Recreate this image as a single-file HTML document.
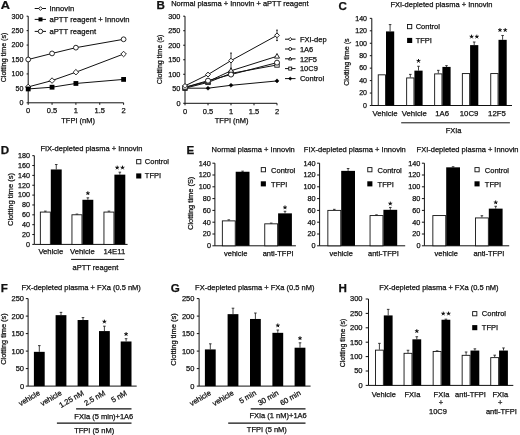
<!DOCTYPE html>
<html><head><meta charset="utf-8"><style>
html,body{margin:0;padding:0;background:#fff;}
svg{display:block;filter:grayscale(1) blur(0.3px);}
text{font-family:"Liberation Sans",sans-serif;font-size:7.5px;fill:#111;stroke:#111;stroke-width:0.25px;}
</style></head><body>
<svg width="520" height="435" viewBox="0 0 520 435">
<rect width="520" height="435" fill="#fff"/>
<g transform="translate(0.8 9.35) scale(1.1 1)">
<text x="0" y="0" font-weight="bold" style="font-size:11.6px">A</text>
</g>
<line x1="28.2" y1="16.2" x2="28.2" y2="102.8" stroke="#111" stroke-width="1"/>
<line x1="26.6" y1="102.8" x2="28.2" y2="102.8" stroke="#111" stroke-width="1"/>
<text x="23.45" y="105.11" text-anchor="end" style="font-size:7.1px">0</text>
<line x1="26.6" y1="88.37" x2="28.2" y2="88.37" stroke="#111" stroke-width="1"/>
<text x="23.45" y="90.67" text-anchor="end" style="font-size:7.1px">50</text>
<line x1="26.6" y1="73.93" x2="28.2" y2="73.93" stroke="#111" stroke-width="1"/>
<text x="23.45" y="76.24" text-anchor="end" style="font-size:7.1px">100</text>
<line x1="26.6" y1="59.5" x2="28.2" y2="59.5" stroke="#111" stroke-width="1"/>
<text x="23.45" y="61.81" text-anchor="end" style="font-size:7.1px">150</text>
<line x1="26.6" y1="45.07" x2="28.2" y2="45.07" stroke="#111" stroke-width="1"/>
<text x="23.45" y="47.37" text-anchor="end" style="font-size:7.1px">200</text>
<line x1="26.6" y1="30.63" x2="28.2" y2="30.63" stroke="#111" stroke-width="1"/>
<text x="23.45" y="32.94" text-anchor="end" style="font-size:7.1px">250</text>
<line x1="26.6" y1="16.2" x2="28.2" y2="16.2" stroke="#111" stroke-width="1"/>
<text x="23.45" y="18.51" text-anchor="end" style="font-size:7.1px">300</text>
<line x1="28.2" y1="102.8" x2="123.6" y2="102.8" stroke="#111" stroke-width="1"/>
<line x1="28.2" y1="102.8" x2="28.2" y2="104.8" stroke="#111" stroke-width="1"/>
<text x="28.2" y="113.2" text-anchor="middle">0</text>
<line x1="52.05" y1="102.8" x2="52.05" y2="104.8" stroke="#111" stroke-width="1"/>
<text x="52.05" y="113.2" text-anchor="middle">0.5</text>
<line x1="75.9" y1="102.8" x2="75.9" y2="104.8" stroke="#111" stroke-width="1"/>
<text x="75.9" y="113.2" text-anchor="middle">1</text>
<line x1="99.75" y1="102.8" x2="99.75" y2="104.8" stroke="#111" stroke-width="1"/>
<text x="99.75" y="113.2" text-anchor="middle">1.5</text>
<line x1="123.6" y1="102.8" x2="123.6" y2="104.8" stroke="#111" stroke-width="1"/>
<text x="123.6" y="113.2" text-anchor="middle">2</text>
<text x="78.1" y="123" text-anchor="middle">TFPI (nM)</text>
<text x="6.4" y="57.5" text-anchor="middle" style="font-size:7.1px" transform="rotate(-90 6.4 57.5)">Clotting time (s)</text>
<polyline points="28.2,86.92 52.05,80.57 75.9,72.2 123.6,54.02" fill="none" stroke="#111" stroke-width="1"/>
<polyline points="28.2,88.94 52.05,87.21 75.9,83.46 123.6,79.42" fill="none" stroke="#111" stroke-width="1"/>
<polyline points="28.2,59.5 52.05,53.44 75.9,47.66 123.6,39.29" fill="none" stroke="#111" stroke-width="1"/>
<polygon points="28.2,84.16 30.96,86.92 28.2,89.68 25.44,86.92" fill="#fff" stroke="#111" stroke-width="0.9"/>
<polygon points="52.05,77.81 54.81,80.57 52.05,83.33 49.29,80.57" fill="#fff" stroke="#111" stroke-width="0.9"/>
<polygon points="75.9,69.44 78.66,72.2 75.9,74.96 73.14,72.2" fill="#fff" stroke="#111" stroke-width="0.9"/>
<polygon points="123.6,51.26 126.36,54.02 123.6,56.78 120.84,54.02" fill="#fff" stroke="#111" stroke-width="0.9"/>
<rect x="25.8" y="86.54" width="4.8" height="4.8" fill="#000"/>
<rect x="49.65" y="84.81" width="4.8" height="4.8" fill="#000"/>
<rect x="73.5" y="81.06" width="4.8" height="4.8" fill="#000"/>
<rect x="121.2" y="77.02" width="4.8" height="4.8" fill="#000"/>
<circle cx="28.2" cy="59.5" r="2.4" fill="#fff" stroke="#111" stroke-width="0.9"/>
<circle cx="52.05" cy="53.44" r="2.4" fill="#fff" stroke="#111" stroke-width="0.9"/>
<circle cx="75.9" cy="47.66" r="2.4" fill="#fff" stroke="#111" stroke-width="0.9"/>
<circle cx="123.6" cy="39.29" r="2.4" fill="#fff" stroke="#111" stroke-width="0.9"/>
<line x1="34.7" y1="8.5" x2="46" y2="8.5" stroke="#111" stroke-width="1"/>
<polygon points="40.5,6.66 42.34,8.5 40.5,10.34 38.66,8.5" fill="#fff" stroke="#111" stroke-width="0.9"/>
<text x="49.5" y="11.25" style="font-size:7.65px">Innovin</text>
<line x1="34.7" y1="19.4" x2="46" y2="19.4" stroke="#111" stroke-width="1"/>
<rect x="38.5" y="17.4" width="4" height="4" fill="#000"/>
<text x="49.5" y="22.15" style="font-size:7.65px">aPTT reagent + Innovin</text>
<line x1="34.7" y1="31.4" x2="46" y2="31.4" stroke="#111" stroke-width="1"/>
<circle cx="40.5" cy="31.4" r="2.2" fill="#fff" stroke="#111" stroke-width="0.9"/>
<text x="49.5" y="34.15" style="font-size:7.65px">aPTT reagent</text>
<text x="156.6" y="8.8" font-weight="bold" style="font-size:11.6px">B</text>
<text x="171.2" y="6.2">Normal plasma + Innovin + aPTT reagent</text>
<line x1="185" y1="16.2" x2="185" y2="103.3" stroke="#111" stroke-width="1"/>
<line x1="183.2" y1="103.3" x2="185" y2="103.3" stroke="#111" stroke-width="1"/>
<text x="180.45" y="105.68" text-anchor="end" style="font-size:7.3px">0</text>
<line x1="183.2" y1="88.78" x2="185" y2="88.78" stroke="#111" stroke-width="1"/>
<text x="180.45" y="91.16" text-anchor="end" style="font-size:7.3px">50</text>
<line x1="183.2" y1="74.27" x2="185" y2="74.27" stroke="#111" stroke-width="1"/>
<text x="180.45" y="76.64" text-anchor="end" style="font-size:7.3px">100</text>
<line x1="183.2" y1="59.75" x2="185" y2="59.75" stroke="#111" stroke-width="1"/>
<text x="180.45" y="62.13" text-anchor="end" style="font-size:7.3px">150</text>
<line x1="183.2" y1="45.23" x2="185" y2="45.23" stroke="#111" stroke-width="1"/>
<text x="180.45" y="47.61" text-anchor="end" style="font-size:7.3px">200</text>
<line x1="183.2" y1="30.72" x2="185" y2="30.72" stroke="#111" stroke-width="1"/>
<text x="180.45" y="33.09" text-anchor="end" style="font-size:7.3px">250</text>
<line x1="183.2" y1="16.2" x2="185" y2="16.2" stroke="#111" stroke-width="1"/>
<text x="180.45" y="18.58" text-anchor="end" style="font-size:7.3px">300</text>
<line x1="185" y1="103.3" x2="277" y2="103.3" stroke="#111" stroke-width="1"/>
<line x1="185" y1="103.3" x2="185" y2="105.3" stroke="#111" stroke-width="1"/>
<text x="185" y="113.7" text-anchor="middle">0</text>
<line x1="208" y1="103.3" x2="208" y2="105.3" stroke="#111" stroke-width="1"/>
<text x="208" y="113.7" text-anchor="middle">0.5</text>
<line x1="231" y1="103.3" x2="231" y2="105.3" stroke="#111" stroke-width="1"/>
<text x="231" y="113.7" text-anchor="middle">1</text>
<line x1="254" y1="103.3" x2="254" y2="105.3" stroke="#111" stroke-width="1"/>
<text x="254" y="113.7" text-anchor="middle">1.5</text>
<line x1="277" y1="103.3" x2="277" y2="105.3" stroke="#111" stroke-width="1"/>
<text x="277" y="113.7" text-anchor="middle">2</text>
<text x="231.6" y="123" text-anchor="middle">TFPI (nM)</text>
<text x="162.3" y="59.4" text-anchor="middle" style="font-size:7.1px" transform="rotate(-90 162.3 59.4)">Clotting time (s)</text>
<polyline points="185,88.2 208,88.2 231,85.3 277,80.94" fill="none" stroke="#111" stroke-width="1"/>
<polyline points="185,88.2 208,82.4 231,73.4 277,64.98" fill="none" stroke="#111" stroke-width="1"/>
<polyline points="185,87.33 208,81.53 231,70.78 277,56.27" fill="none" stroke="#111" stroke-width="1"/>
<polyline points="185,87.33 208,80.65 231,74.56 277,62.65" fill="none" stroke="#111" stroke-width="1"/>
<polyline points="185,85.88 208,74.56 231,60.62 277,35.36" fill="none" stroke="#111" stroke-width="1"/>
<line x1="231" y1="70.78" x2="231" y2="69.04" stroke="#111" stroke-width="0.8"/>
<line x1="230" y1="69.04" x2="232" y2="69.04" stroke="#111" stroke-width="0.8"/>
<line x1="208" y1="81.53" x2="208" y2="79.78" stroke="#111" stroke-width="0.8"/>
<line x1="207" y1="79.78" x2="209" y2="79.78" stroke="#111" stroke-width="0.8"/>
<line x1="185" y1="85.88" x2="185" y2="84.72" stroke="#111" stroke-width="0.8"/>
<line x1="184" y1="84.72" x2="186" y2="84.72" stroke="#111" stroke-width="0.8"/>
<line x1="185" y1="85.88" x2="185" y2="87.04" stroke="#111" stroke-width="0.8"/>
<line x1="184" y1="87.04" x2="186" y2="87.04" stroke="#111" stroke-width="0.8"/>
<line x1="208" y1="74.56" x2="208" y2="73.11" stroke="#111" stroke-width="0.8"/>
<line x1="207" y1="73.11" x2="209" y2="73.11" stroke="#111" stroke-width="0.8"/>
<line x1="208" y1="74.56" x2="208" y2="76.01" stroke="#111" stroke-width="0.8"/>
<line x1="207" y1="76.01" x2="209" y2="76.01" stroke="#111" stroke-width="0.8"/>
<line x1="231" y1="60.62" x2="231" y2="53.07" stroke="#111" stroke-width="0.8"/>
<line x1="230" y1="53.07" x2="232" y2="53.07" stroke="#111" stroke-width="0.8"/>
<line x1="231" y1="60.62" x2="231" y2="68.17" stroke="#111" stroke-width="0.8"/>
<line x1="230" y1="68.17" x2="232" y2="68.17" stroke="#111" stroke-width="0.8"/>
<line x1="277" y1="35.36" x2="277" y2="30.14" stroke="#111" stroke-width="0.8"/>
<line x1="276" y1="30.14" x2="278" y2="30.14" stroke="#111" stroke-width="0.8"/>
<line x1="277" y1="35.36" x2="277" y2="40.59" stroke="#111" stroke-width="0.8"/>
<line x1="276" y1="40.59" x2="278" y2="40.59" stroke="#111" stroke-width="0.8"/>
<polygon points="185,86.13 187.07,88.2 185,90.27 182.93,88.2" fill="#000" stroke="#000" stroke-width="0.45"/>
<polygon points="208,86.13 210.07,88.2 208,90.27 205.93,88.2" fill="#000" stroke="#000" stroke-width="0.45"/>
<polygon points="231,83.23 233.07,85.3 231,87.37 228.93,85.3" fill="#000" stroke="#000" stroke-width="0.45"/>
<polygon points="277,78.87 279.07,80.94 277,83.01 274.93,80.94" fill="#000" stroke="#000" stroke-width="0.45"/>
<rect x="182.8" y="86" width="4.4" height="4.4" fill="#fff" stroke="#111" stroke-width="0.9"/>
<rect x="205.8" y="80.2" width="4.4" height="4.4" fill="#fff" stroke="#111" stroke-width="0.9"/>
<rect x="228.8" y="71.2" width="4.4" height="4.4" fill="#fff" stroke="#111" stroke-width="0.9"/>
<rect x="274.8" y="62.78" width="4.4" height="4.4" fill="#fff" stroke="#111" stroke-width="0.9"/>
<polygon points="185,84.57 187.53,89.17 182.47,89.17" fill="#fff" stroke="#111" stroke-width="0.9"/>
<polygon points="208,78.77 210.53,83.37 205.47,83.37" fill="#fff" stroke="#111" stroke-width="0.9"/>
<polygon points="231,68.02 233.53,72.62 228.47,72.62" fill="#fff" stroke="#111" stroke-width="0.9"/>
<polygon points="277,53.51 279.53,58.11 274.47,58.11" fill="#fff" stroke="#111" stroke-width="0.9"/>
<circle cx="185" cy="87.33" r="2.5" fill="#fff" stroke="#111" stroke-width="0.9"/>
<circle cx="208" cy="80.65" r="2.5" fill="#fff" stroke="#111" stroke-width="0.9"/>
<circle cx="231" cy="74.56" r="2.5" fill="#fff" stroke="#111" stroke-width="0.9"/>
<circle cx="277" cy="62.65" r="2.5" fill="#fff" stroke="#111" stroke-width="0.9"/>
<polygon points="185,83.46 187.41,85.88 185,88.3 182.59,85.88" fill="#fff" stroke="#111" stroke-width="0.9"/>
<polygon points="208,72.14 210.41,74.56 208,76.97 205.59,74.56" fill="#fff" stroke="#111" stroke-width="0.9"/>
<polygon points="231,58.21 233.41,60.62 231,63.04 228.59,60.62" fill="#fff" stroke="#111" stroke-width="0.9"/>
<polygon points="277,32.95 279.42,35.36 277,37.78 274.58,35.36" fill="#fff" stroke="#111" stroke-width="0.9"/>
<line x1="285" y1="39.2" x2="295.5" y2="39.2" stroke="#111" stroke-width="1"/>
<polygon points="290.2,37.48 291.93,39.2 290.2,40.93 288.47,39.2" fill="#fff" stroke="#111" stroke-width="0.9"/>
<text x="299.9" y="41.9">FXI-dep</text>
<line x1="285" y1="49" x2="295.5" y2="49" stroke="#111" stroke-width="1"/>
<circle cx="290.2" cy="49" r="1.5" fill="#fff" stroke="#111" stroke-width="0.9"/>
<text x="299.9" y="51.7">1A6</text>
<line x1="285" y1="58.8" x2="295.5" y2="58.8" stroke="#111" stroke-width="1"/>
<polygon points="290.2,57 291.85,60 288.55,60" fill="#fff" stroke="#111" stroke-width="0.9"/>
<text x="299.9" y="61.5">12F5</text>
<line x1="285" y1="68.6" x2="295.5" y2="68.6" stroke="#111" stroke-width="1"/>
<rect x="288.7" y="67.1" width="3" height="3" fill="#fff" stroke="#111" stroke-width="0.9"/>
<text x="299.9" y="71.3">10C9</text>
<line x1="285" y1="78.6" x2="295.5" y2="78.6" stroke="#111" stroke-width="1"/>
<polygon points="290.2,76.88 291.93,78.6 290.2,80.32 288.47,78.6" fill="#000" stroke="#000" stroke-width="0.45"/>
<text x="299.9" y="81.3">Control</text>
<text x="338.5" y="9.5" font-weight="bold" style="font-size:11.6px">C</text>
<text x="390.4" y="6.9">FXI-depleted plasma + Innovin</text>
<line x1="371.8" y1="18.35" x2="371.8" y2="105.5" stroke="#111" stroke-width="1"/>
<line x1="369.8" y1="105.5" x2="371.8" y2="105.5" stroke="#111" stroke-width="1"/>
<text x="366.95" y="107.77" text-anchor="end" style="font-size:7px">0</text>
<line x1="369.8" y1="93.05" x2="371.8" y2="93.05" stroke="#111" stroke-width="1"/>
<text x="366.95" y="95.32" text-anchor="end" style="font-size:7px">20</text>
<line x1="369.8" y1="80.6" x2="371.8" y2="80.6" stroke="#111" stroke-width="1"/>
<text x="366.95" y="82.87" text-anchor="end" style="font-size:7px">40</text>
<line x1="369.8" y1="68.15" x2="371.8" y2="68.15" stroke="#111" stroke-width="1"/>
<text x="366.95" y="70.42" text-anchor="end" style="font-size:7px">60</text>
<line x1="369.8" y1="55.7" x2="371.8" y2="55.7" stroke="#111" stroke-width="1"/>
<text x="366.95" y="57.97" text-anchor="end" style="font-size:7px">80</text>
<line x1="369.8" y1="43.25" x2="371.8" y2="43.25" stroke="#111" stroke-width="1"/>
<text x="366.95" y="45.52" text-anchor="end" style="font-size:7px">100</text>
<line x1="369.8" y1="30.8" x2="371.8" y2="30.8" stroke="#111" stroke-width="1"/>
<text x="366.95" y="33.07" text-anchor="end" style="font-size:7px">120</text>
<line x1="369.8" y1="18.35" x2="371.8" y2="18.35" stroke="#111" stroke-width="1"/>
<text x="366.95" y="20.62" text-anchor="end" style="font-size:7px">140</text>
<line x1="371.8" y1="105.5" x2="512" y2="105.5" stroke="#111" stroke-width="1"/>
<text x="349.4" y="62.1" text-anchor="middle" style="font-size:7.1px" transform="rotate(-90 349.4 62.1)">Clotting time (s</text>
<rect x="378.25" y="74.83" width="7.3" height="30.68" fill="#fff" stroke="#111" stroke-width="0.9"/>
<line x1="390.1" y1="31.42" x2="390.1" y2="24.58" stroke="#111" stroke-width="0.8"/>
<line x1="388.8" y1="24.58" x2="391.4" y2="24.58" stroke="#111" stroke-width="0.8"/>
<rect x="386" y="31.42" width="8.2" height="74.08" fill="#000"/>
<line x1="410.3" y1="77.49" x2="410.3" y2="74.38" stroke="#111" stroke-width="0.8"/>
<line x1="409" y1="74.38" x2="411.6" y2="74.38" stroke="#111" stroke-width="0.8"/>
<rect x="406.65" y="77.94" width="7.3" height="27.56" fill="#fff" stroke="#111" stroke-width="0.9"/>
<line x1="418.5" y1="70.64" x2="418.5" y2="66.28" stroke="#111" stroke-width="0.8"/>
<line x1="417.2" y1="66.28" x2="419.8" y2="66.28" stroke="#111" stroke-width="0.8"/>
<rect x="414.4" y="70.64" width="8.2" height="34.86" fill="#000"/>
<path d="M418.5 60.98L418.5 59.38M418.5 60.98L420.02 60.49M418.5 60.98L419.44 62.28M418.5 60.98L417.56 62.28M418.5 60.98L416.98 60.49" stroke="#111" stroke-width="1" stroke-linecap="round"/>
<circle cx="418.5" cy="60.98" r="0.7" fill="#111"/>
<line x1="438.3" y1="73.44" x2="438.3" y2="70.33" stroke="#111" stroke-width="0.8"/>
<line x1="437" y1="70.33" x2="439.6" y2="70.33" stroke="#111" stroke-width="0.8"/>
<rect x="434.65" y="73.89" width="7.3" height="31.61" fill="#fff" stroke="#111" stroke-width="0.9"/>
<line x1="446.5" y1="66.91" x2="446.5" y2="65.66" stroke="#111" stroke-width="0.8"/>
<line x1="445.2" y1="65.66" x2="447.8" y2="65.66" stroke="#111" stroke-width="0.8"/>
<rect x="442.4" y="66.91" width="8.2" height="38.59" fill="#000"/>
<rect x="462.35" y="73.58" width="7.3" height="31.92" fill="#fff" stroke="#111" stroke-width="0.9"/>
<line x1="474.2" y1="45.12" x2="474.2" y2="42.01" stroke="#111" stroke-width="0.8"/>
<line x1="472.9" y1="42.01" x2="475.5" y2="42.01" stroke="#111" stroke-width="0.8"/>
<rect x="470.1" y="45.12" width="8.2" height="60.38" fill="#000"/>
<path d="M471.55 36.71L471.55 35.11M471.55 36.71L473.07 36.21M471.55 36.71L472.49 38M471.55 36.71L470.61 38M471.55 36.71L470.03 36.21" stroke="#111" stroke-width="1" stroke-linecap="round"/>
<circle cx="471.55" cy="36.71" r="0.7" fill="#111"/>
<path d="M476.85 36.71L476.85 35.11M476.85 36.71L478.37 36.21M476.85 36.71L477.79 38M476.85 36.71L475.91 38M476.85 36.71L475.33 36.21" stroke="#111" stroke-width="1" stroke-linecap="round"/>
<circle cx="476.85" cy="36.71" r="0.7" fill="#111"/>
<rect x="490.75" y="73.58" width="7.3" height="31.92" fill="#fff" stroke="#111" stroke-width="0.9"/>
<line x1="502.6" y1="39.83" x2="502.6" y2="35.47" stroke="#111" stroke-width="0.8"/>
<line x1="501.3" y1="35.47" x2="503.9" y2="35.47" stroke="#111" stroke-width="0.8"/>
<rect x="498.5" y="39.83" width="8.2" height="65.67" fill="#000"/>
<path d="M499.95 30.17L499.95 28.57M499.95 30.17L501.47 29.67M499.95 30.17L500.89 31.46M499.95 30.17L499.01 31.46M499.95 30.17L498.43 29.67" stroke="#111" stroke-width="1" stroke-linecap="round"/>
<circle cx="499.95" cy="30.17" r="0.7" fill="#111"/>
<path d="M505.25 30.17L505.25 28.57M505.25 30.17L506.77 29.67M505.25 30.17L506.19 31.46M505.25 30.17L504.31 31.46M505.25 30.17L503.73 29.67" stroke="#111" stroke-width="1" stroke-linecap="round"/>
<circle cx="505.25" cy="30.17" r="0.7" fill="#111"/>
<text x="385.1" y="116.2" text-anchor="middle" style="font-size:7.8px">Vehicle</text>
<text x="414.3" y="116.2" text-anchor="middle" style="font-size:7.8px">Vehicle</text>
<text x="442.1" y="116.2" text-anchor="middle" style="font-size:7.8px">1A6</text>
<text x="469.1" y="116.2" text-anchor="middle" style="font-size:7.8px">10C9</text>
<text x="497" y="116.2" text-anchor="middle" style="font-size:7.8px">12F5</text>
<line x1="401.2" y1="122.8" x2="509.9" y2="122.8" stroke="#111" stroke-width="1"/>
<text x="453.6" y="132.6" text-anchor="middle">FXIa</text>
<rect x="407.55" y="24.5" width="4.2" height="4.2" fill="#fff" stroke="#111" stroke-width="0.9"/>
<text x="415.7" y="28.7">Control</text>
<rect x="407.1" y="37.9" width="5.1" height="5.1" fill="#000"/>
<text x="415.7" y="42.5">TFPI</text>
<text x="0.8" y="153.9" font-weight="bold" style="font-size:11.6px">D</text>
<text x="40.4" y="151.4">FIX-depleted plasma + Innovin</text>
<line x1="34.3" y1="155.66" x2="34.3" y2="244.4" stroke="#111" stroke-width="1"/>
<line x1="32.3" y1="244.4" x2="34.3" y2="244.4" stroke="#111" stroke-width="1"/>
<text x="30.05" y="246.74" text-anchor="end" style="font-size:7.2px">0</text>
<line x1="32.3" y1="234.54" x2="34.3" y2="234.54" stroke="#111" stroke-width="1"/>
<text x="30.05" y="236.88" text-anchor="end" style="font-size:7.2px">20</text>
<line x1="32.3" y1="224.68" x2="34.3" y2="224.68" stroke="#111" stroke-width="1"/>
<text x="30.05" y="227.02" text-anchor="end" style="font-size:7.2px">40</text>
<line x1="32.3" y1="214.82" x2="34.3" y2="214.82" stroke="#111" stroke-width="1"/>
<text x="30.05" y="217.16" text-anchor="end" style="font-size:7.2px">60</text>
<line x1="32.3" y1="204.96" x2="34.3" y2="204.96" stroke="#111" stroke-width="1"/>
<text x="30.05" y="207.3" text-anchor="end" style="font-size:7.2px">80</text>
<line x1="32.3" y1="195.1" x2="34.3" y2="195.1" stroke="#111" stroke-width="1"/>
<text x="30.05" y="197.44" text-anchor="end" style="font-size:7.2px">100</text>
<line x1="32.3" y1="185.24" x2="34.3" y2="185.24" stroke="#111" stroke-width="1"/>
<text x="30.05" y="187.58" text-anchor="end" style="font-size:7.2px">120</text>
<line x1="32.3" y1="175.38" x2="34.3" y2="175.38" stroke="#111" stroke-width="1"/>
<text x="30.05" y="177.72" text-anchor="end" style="font-size:7.2px">140</text>
<line x1="32.3" y1="165.52" x2="34.3" y2="165.52" stroke="#111" stroke-width="1"/>
<text x="30.05" y="167.86" text-anchor="end" style="font-size:7.2px">160</text>
<line x1="32.3" y1="155.66" x2="34.3" y2="155.66" stroke="#111" stroke-width="1"/>
<text x="30.05" y="158" text-anchor="end" style="font-size:7.2px">180</text>
<line x1="34.3" y1="244.4" x2="127.6" y2="244.4" stroke="#111" stroke-width="1"/>
<text x="13.3" y="199.5" text-anchor="middle" style="font-size:7.6px" transform="rotate(-90 13.3 199.5)">Clotting time (s)</text>
<line x1="45.35" y1="211.62" x2="45.35" y2="211.12" stroke="#111" stroke-width="0.8"/>
<line x1="44.05" y1="211.12" x2="46.65" y2="211.12" stroke="#111" stroke-width="0.8"/>
<rect x="40.35" y="212.07" width="10" height="32.33" fill="#fff" stroke="#111" stroke-width="0.9"/>
<line x1="56.25" y1="169.46" x2="56.25" y2="164.53" stroke="#111" stroke-width="0.8"/>
<line x1="54.95" y1="164.53" x2="57.55" y2="164.53" stroke="#111" stroke-width="0.8"/>
<rect x="50.8" y="169.46" width="10.9" height="74.94" fill="#000"/>
<line x1="76.95" y1="214.33" x2="76.95" y2="214.08" stroke="#111" stroke-width="0.8"/>
<line x1="75.65" y1="214.08" x2="78.25" y2="214.08" stroke="#111" stroke-width="0.8"/>
<rect x="71.95" y="214.78" width="10" height="29.62" fill="#fff" stroke="#111" stroke-width="0.9"/>
<line x1="87.85" y1="199.78" x2="87.85" y2="197.81" stroke="#111" stroke-width="0.8"/>
<line x1="86.55" y1="197.81" x2="89.15" y2="197.81" stroke="#111" stroke-width="0.8"/>
<rect x="82.4" y="199.78" width="10.9" height="44.62" fill="#000"/>
<path d="M87.85 193.31L87.85 191.71M87.85 193.31L89.37 192.82M87.85 193.31L88.79 194.61M87.85 193.31L86.91 194.61M87.85 193.31L86.33 192.82" stroke="#111" stroke-width="1" stroke-linecap="round"/>
<circle cx="87.85" cy="193.31" r="0.7" fill="#111"/>
<line x1="108.95" y1="211.62" x2="108.95" y2="211.12" stroke="#111" stroke-width="0.8"/>
<line x1="107.65" y1="211.12" x2="110.25" y2="211.12" stroke="#111" stroke-width="0.8"/>
<rect x="103.95" y="212.07" width="10" height="32.33" fill="#fff" stroke="#111" stroke-width="0.9"/>
<line x1="119.85" y1="174.64" x2="119.85" y2="172.18" stroke="#111" stroke-width="0.8"/>
<line x1="118.55" y1="172.18" x2="121.15" y2="172.18" stroke="#111" stroke-width="0.8"/>
<rect x="114.4" y="174.64" width="10.9" height="69.76" fill="#000"/>
<path d="M117.2 167.68L117.2 166.08M117.2 167.68L118.72 167.18M117.2 167.68L118.14 168.97M117.2 167.68L116.26 168.97M117.2 167.68L115.68 167.18" stroke="#111" stroke-width="1" stroke-linecap="round"/>
<circle cx="117.2" cy="167.68" r="0.7" fill="#111"/>
<path d="M122.5 167.68L122.5 166.08M122.5 167.68L124.02 167.18M122.5 167.68L123.44 168.97M122.5 167.68L121.56 168.97M122.5 167.68L120.98 167.18" stroke="#111" stroke-width="1" stroke-linecap="round"/>
<circle cx="122.5" cy="167.68" r="0.7" fill="#111"/>
<text x="50.8" y="254.3" text-anchor="middle" style="font-size:7.7px">Vehicle</text>
<text x="82.4" y="254.3" text-anchor="middle" style="font-size:7.7px">Vehicle</text>
<text x="114.4" y="254.3" text-anchor="middle" style="font-size:7.7px">14E11</text>
<line x1="71.1" y1="259.4" x2="124.2" y2="259.4" stroke="#111" stroke-width="1"/>
<text x="95.4" y="270.1" text-anchor="middle">aPTT reagent</text>
<rect x="136.65" y="159.6" width="4.2" height="4.2" fill="#fff" stroke="#111" stroke-width="0.9"/>
<text x="144.8" y="163.7">Control</text>
<rect x="136.2" y="173.4" width="5.1" height="5.1" fill="#000"/>
<text x="144.8" y="177.9">TFPI</text>
<text x="186.6" y="154.1" font-weight="bold" style="font-size:11.6px">E</text>
<text x="211.6" y="151.7">Normal plasma + Innovin</text>
<line x1="214.9" y1="163.2" x2="214.9" y2="245.8" stroke="#111" stroke-width="1"/>
<line x1="212.4" y1="245.8" x2="214.9" y2="245.8" stroke="#111" stroke-width="1"/>
<text x="210.95" y="248.18" text-anchor="end" style="font-size:7.3px">0</text>
<line x1="212.4" y1="234" x2="214.9" y2="234" stroke="#111" stroke-width="1"/>
<text x="210.95" y="236.38" text-anchor="end" style="font-size:7.3px">20</text>
<line x1="212.4" y1="222.2" x2="214.9" y2="222.2" stroke="#111" stroke-width="1"/>
<text x="210.95" y="224.58" text-anchor="end" style="font-size:7.3px">40</text>
<line x1="212.4" y1="210.4" x2="214.9" y2="210.4" stroke="#111" stroke-width="1"/>
<text x="210.95" y="212.78" text-anchor="end" style="font-size:7.3px">60</text>
<line x1="212.4" y1="198.6" x2="214.9" y2="198.6" stroke="#111" stroke-width="1"/>
<text x="210.95" y="200.98" text-anchor="end" style="font-size:7.3px">80</text>
<line x1="212.4" y1="186.8" x2="214.9" y2="186.8" stroke="#111" stroke-width="1"/>
<text x="210.95" y="189.18" text-anchor="end" style="font-size:7.3px">100</text>
<line x1="212.4" y1="175" x2="214.9" y2="175" stroke="#111" stroke-width="1"/>
<text x="210.95" y="177.38" text-anchor="end" style="font-size:7.3px">120</text>
<line x1="212.4" y1="163.2" x2="214.9" y2="163.2" stroke="#111" stroke-width="1"/>
<text x="210.95" y="165.58" text-anchor="end" style="font-size:7.3px">140</text>
<line x1="214.9" y1="245.8" x2="295.9" y2="245.8" stroke="#111" stroke-width="1"/>
<line x1="228.8" y1="220.43" x2="228.8" y2="219.84" stroke="#111" stroke-width="0.8"/>
<line x1="227.5" y1="219.84" x2="230.1" y2="219.84" stroke="#111" stroke-width="0.8"/>
<rect x="222.35" y="220.88" width="12.9" height="24.92" fill="#fff" stroke="#111" stroke-width="0.9"/>
<line x1="242.6" y1="171.75" x2="242.6" y2="171.17" stroke="#111" stroke-width="0.8"/>
<line x1="241.3" y1="171.17" x2="243.9" y2="171.17" stroke="#111" stroke-width="0.8"/>
<rect x="235.7" y="171.75" width="13.8" height="74.05" fill="#000"/>
<line x1="271.2" y1="223.38" x2="271.2" y2="223.09" stroke="#111" stroke-width="0.8"/>
<line x1="269.9" y1="223.09" x2="272.5" y2="223.09" stroke="#111" stroke-width="0.8"/>
<rect x="264.75" y="223.83" width="12.9" height="21.97" fill="#fff" stroke="#111" stroke-width="0.9"/>
<line x1="285" y1="213.35" x2="285" y2="211.28" stroke="#111" stroke-width="0.8"/>
<line x1="283.7" y1="211.28" x2="286.3" y2="211.28" stroke="#111" stroke-width="0.8"/>
<rect x="278.1" y="213.35" width="13.8" height="32.45" fill="#000"/>
<path d="M285 207.48L285 205.88M285 207.48L286.52 206.99M285 207.48L285.94 208.78M285 207.48L284.06 208.78M285 207.48L283.48 206.99" stroke="#111" stroke-width="1" stroke-linecap="round"/>
<circle cx="285" cy="207.48" r="0.7" fill="#111"/>
<text x="235.7" y="255.9" text-anchor="middle">vehicle</text>
<text x="278.1" y="255.9" text-anchor="middle">anti-TFPI</text>
<rect x="261.25" y="167.6" width="4.2" height="4.2" fill="#fff" stroke="#111" stroke-width="0.9"/>
<text x="271.1" y="172.6">Control</text>
<rect x="260.8" y="181.3" width="5.1" height="5.1" fill="#000"/>
<text x="271.1" y="186.7">TFPI</text>
<text x="193.4" y="203.3" text-anchor="middle" style="font-size:7.45px" transform="rotate(-90 193.4 203.3)">Clotting time (S)</text>
<text x="303.8" y="151.7">FIX-depleted plasma + Innovin</text>
<line x1="319.6" y1="163.2" x2="319.6" y2="245.8" stroke="#111" stroke-width="1"/>
<line x1="317.1" y1="245.8" x2="319.6" y2="245.8" stroke="#111" stroke-width="1"/>
<text x="315.65" y="248.18" text-anchor="end" style="font-size:7.3px">0</text>
<line x1="317.1" y1="234" x2="319.6" y2="234" stroke="#111" stroke-width="1"/>
<text x="315.65" y="236.38" text-anchor="end" style="font-size:7.3px">20</text>
<line x1="317.1" y1="222.2" x2="319.6" y2="222.2" stroke="#111" stroke-width="1"/>
<text x="315.65" y="224.58" text-anchor="end" style="font-size:7.3px">40</text>
<line x1="317.1" y1="210.4" x2="319.6" y2="210.4" stroke="#111" stroke-width="1"/>
<text x="315.65" y="212.78" text-anchor="end" style="font-size:7.3px">60</text>
<line x1="317.1" y1="198.6" x2="319.6" y2="198.6" stroke="#111" stroke-width="1"/>
<text x="315.65" y="200.98" text-anchor="end" style="font-size:7.3px">80</text>
<line x1="317.1" y1="186.8" x2="319.6" y2="186.8" stroke="#111" stroke-width="1"/>
<text x="315.65" y="189.18" text-anchor="end" style="font-size:7.3px">100</text>
<line x1="317.1" y1="175" x2="319.6" y2="175" stroke="#111" stroke-width="1"/>
<text x="315.65" y="177.38" text-anchor="end" style="font-size:7.3px">120</text>
<line x1="317.1" y1="163.2" x2="319.6" y2="163.2" stroke="#111" stroke-width="1"/>
<text x="315.65" y="165.58" text-anchor="end" style="font-size:7.3px">140</text>
<line x1="319.6" y1="245.8" x2="405.2" y2="245.8" stroke="#111" stroke-width="1"/>
<line x1="334.3" y1="209.93" x2="334.3" y2="209.34" stroke="#111" stroke-width="0.8"/>
<line x1="333" y1="209.34" x2="335.6" y2="209.34" stroke="#111" stroke-width="0.8"/>
<rect x="327.85" y="210.38" width="12.9" height="35.42" fill="#fff" stroke="#111" stroke-width="0.9"/>
<line x1="348.1" y1="170.87" x2="348.1" y2="168.51" stroke="#111" stroke-width="0.8"/>
<line x1="346.8" y1="168.51" x2="349.4" y2="168.51" stroke="#111" stroke-width="0.8"/>
<rect x="341.2" y="170.87" width="13.8" height="74.93" fill="#000"/>
<line x1="376.5" y1="215.12" x2="376.5" y2="214.83" stroke="#111" stroke-width="0.8"/>
<line x1="375.2" y1="214.83" x2="377.8" y2="214.83" stroke="#111" stroke-width="0.8"/>
<rect x="370.05" y="215.57" width="12.9" height="30.23" fill="#fff" stroke="#111" stroke-width="0.9"/>
<line x1="390.3" y1="209.81" x2="390.3" y2="207.45" stroke="#111" stroke-width="0.8"/>
<line x1="389" y1="207.45" x2="391.6" y2="207.45" stroke="#111" stroke-width="0.8"/>
<rect x="383.4" y="209.81" width="13.8" height="35.99" fill="#000"/>
<path d="M390.3 203.65L390.3 202.05M390.3 203.65L391.82 203.16M390.3 203.65L391.24 204.94M390.3 203.65L389.36 204.94M390.3 203.65L388.78 203.16" stroke="#111" stroke-width="1" stroke-linecap="round"/>
<circle cx="390.3" cy="203.65" r="0.7" fill="#111"/>
<text x="341.2" y="255.9" text-anchor="middle">vehicle</text>
<text x="383.4" y="255.9" text-anchor="middle">anti-TFPI</text>
<rect x="367.75" y="167.6" width="4.2" height="4.2" fill="#fff" stroke="#111" stroke-width="0.9"/>
<text x="377.6" y="172.6">Control</text>
<rect x="367.3" y="181.3" width="5.1" height="5.1" fill="#000"/>
<text x="377.6" y="186.7">TFPI</text>
<text x="416.6" y="151.7">FXI-depleted plasma + Innovin</text>
<line x1="424.4" y1="163.2" x2="424.4" y2="245.8" stroke="#111" stroke-width="1"/>
<line x1="421.9" y1="245.8" x2="424.4" y2="245.8" stroke="#111" stroke-width="1"/>
<text x="420.45" y="248.18" text-anchor="end" style="font-size:7.3px">0</text>
<line x1="421.9" y1="234" x2="424.4" y2="234" stroke="#111" stroke-width="1"/>
<text x="420.45" y="236.38" text-anchor="end" style="font-size:7.3px">20</text>
<line x1="421.9" y1="222.2" x2="424.4" y2="222.2" stroke="#111" stroke-width="1"/>
<text x="420.45" y="224.58" text-anchor="end" style="font-size:7.3px">40</text>
<line x1="421.9" y1="210.4" x2="424.4" y2="210.4" stroke="#111" stroke-width="1"/>
<text x="420.45" y="212.78" text-anchor="end" style="font-size:7.3px">60</text>
<line x1="421.9" y1="198.6" x2="424.4" y2="198.6" stroke="#111" stroke-width="1"/>
<text x="420.45" y="200.98" text-anchor="end" style="font-size:7.3px">80</text>
<line x1="421.9" y1="186.8" x2="424.4" y2="186.8" stroke="#111" stroke-width="1"/>
<text x="420.45" y="189.18" text-anchor="end" style="font-size:7.3px">100</text>
<line x1="421.9" y1="175" x2="424.4" y2="175" stroke="#111" stroke-width="1"/>
<text x="420.45" y="177.38" text-anchor="end" style="font-size:7.3px">120</text>
<line x1="421.9" y1="163.2" x2="424.4" y2="163.2" stroke="#111" stroke-width="1"/>
<text x="420.45" y="165.58" text-anchor="end" style="font-size:7.3px">140</text>
<line x1="424.4" y1="245.8" x2="509.2" y2="245.8" stroke="#111" stroke-width="1"/>
<rect x="432.85" y="215.57" width="12.9" height="30.23" fill="#fff" stroke="#111" stroke-width="0.9"/>
<line x1="453.1" y1="167.33" x2="453.1" y2="166.74" stroke="#111" stroke-width="0.8"/>
<line x1="451.8" y1="166.74" x2="454.4" y2="166.74" stroke="#111" stroke-width="0.8"/>
<rect x="446.2" y="167.33" width="13.8" height="78.47" fill="#000"/>
<line x1="481.9" y1="217.48" x2="481.9" y2="215.71" stroke="#111" stroke-width="0.8"/>
<line x1="480.6" y1="215.71" x2="483.2" y2="215.71" stroke="#111" stroke-width="0.8"/>
<rect x="475.45" y="217.93" width="12.9" height="27.87" fill="#fff" stroke="#111" stroke-width="0.9"/>
<line x1="495.7" y1="208.63" x2="495.7" y2="206.27" stroke="#111" stroke-width="0.8"/>
<line x1="494.4" y1="206.27" x2="497" y2="206.27" stroke="#111" stroke-width="0.8"/>
<rect x="488.8" y="208.63" width="13.8" height="37.17" fill="#000"/>
<path d="M495.7 202.47L495.7 200.87M495.7 202.47L497.22 201.98M495.7 202.47L496.64 203.76M495.7 202.47L494.76 203.76M495.7 202.47L494.18 201.98" stroke="#111" stroke-width="1" stroke-linecap="round"/>
<circle cx="495.7" cy="202.47" r="0.7" fill="#111"/>
<text x="446.2" y="255.9" text-anchor="middle">vehicle</text>
<text x="488.8" y="255.9" text-anchor="middle">anti-TFPI</text>
<rect x="474.95" y="167.6" width="4.2" height="4.2" fill="#fff" stroke="#111" stroke-width="0.9"/>
<text x="484.8" y="172.6">Control</text>
<rect x="474.5" y="181.3" width="5.1" height="5.1" fill="#000"/>
<text x="484.8" y="186.7">TFPI</text>
<text x="0.8" y="292.2" font-weight="bold" style="font-size:11.6px">F</text>
<text x="21.4" y="290.4">FX-depleted plasma + FXa (0.5 nM)</text>
<line x1="28.1" y1="298.6" x2="28.1" y2="386.1" stroke="#111" stroke-width="1"/>
<line x1="25.8" y1="386.1" x2="28.1" y2="386.1" stroke="#111" stroke-width="1"/>
<text x="24.05" y="388.55" text-anchor="end">0</text>
<line x1="25.8" y1="368.6" x2="28.1" y2="368.6" stroke="#111" stroke-width="1"/>
<text x="24.05" y="371.05" text-anchor="end">50</text>
<line x1="25.8" y1="351.1" x2="28.1" y2="351.1" stroke="#111" stroke-width="1"/>
<text x="24.05" y="353.55" text-anchor="end">100</text>
<line x1="25.8" y1="333.6" x2="28.1" y2="333.6" stroke="#111" stroke-width="1"/>
<text x="24.05" y="336.05" text-anchor="end">150</text>
<line x1="25.8" y1="316.1" x2="28.1" y2="316.1" stroke="#111" stroke-width="1"/>
<text x="24.05" y="318.55" text-anchor="end">200</text>
<line x1="25.8" y1="298.6" x2="28.1" y2="298.6" stroke="#111" stroke-width="1"/>
<text x="24.05" y="301.05" text-anchor="end">250</text>
<line x1="28.1" y1="386.1" x2="136.7" y2="386.1" stroke="#111" stroke-width="1"/>
<text x="5.9" y="339.1" text-anchor="middle" style="font-size:7.35px" transform="rotate(-90 5.9 339.1)">Clotting time (s)</text>
<line x1="39.3" y1="351.84" x2="39.3" y2="345.61" stroke="#111" stroke-width="0.8"/>
<line x1="38" y1="345.61" x2="40.6" y2="345.61" stroke="#111" stroke-width="0.8"/>
<rect x="33.9" y="351.84" width="10.8" height="34.26" fill="#000"/>
<line x1="61" y1="315.16" x2="61" y2="312.36" stroke="#111" stroke-width="0.8"/>
<line x1="59.7" y1="312.36" x2="62.3" y2="312.36" stroke="#111" stroke-width="0.8"/>
<rect x="55.6" y="315.16" width="10.8" height="70.94" fill="#000"/>
<line x1="83" y1="320.02" x2="83" y2="317.57" stroke="#111" stroke-width="0.8"/>
<line x1="81.7" y1="317.57" x2="84.3" y2="317.57" stroke="#111" stroke-width="0.8"/>
<rect x="77.6" y="320.02" width="10.8" height="66.08" fill="#000"/>
<line x1="104.4" y1="331.08" x2="104.4" y2="326.18" stroke="#111" stroke-width="0.8"/>
<line x1="103.1" y1="326.18" x2="105.7" y2="326.18" stroke="#111" stroke-width="0.8"/>
<rect x="99" y="331.08" width="10.8" height="55.02" fill="#000"/>
<path d="M104.4 321.68L104.4 320.08M104.4 321.68L105.92 321.19M104.4 321.68L105.34 322.97M104.4 321.68L103.46 322.97M104.4 321.68L102.88 321.19" stroke="#111" stroke-width="1" stroke-linecap="round"/>
<circle cx="104.4" cy="321.68" r="0.7" fill="#111"/>
<line x1="126.1" y1="341.48" x2="126.1" y2="338.68" stroke="#111" stroke-width="0.8"/>
<line x1="124.8" y1="338.68" x2="127.4" y2="338.68" stroke="#111" stroke-width="0.8"/>
<rect x="120.7" y="341.48" width="10.8" height="44.62" fill="#000"/>
<path d="M126.1 334.18L126.1 332.57M126.1 334.18L127.62 333.68M126.1 334.18L127.04 335.47M126.1 334.18L125.16 335.47M126.1 334.18L124.58 333.68" stroke="#111" stroke-width="1" stroke-linecap="round"/>
<circle cx="126.1" cy="334.18" r="0.7" fill="#111"/>
<text x="40.7" y="394.5" text-anchor="end" transform="rotate(-30 40.7 394.5)">vehicle</text>
<text x="62.4" y="394.5" text-anchor="end" transform="rotate(-30 62.4 394.5)">vehicle</text>
<text x="84.4" y="394.5" text-anchor="end" transform="rotate(-30 84.4 394.5)">1.25 nM</text>
<text x="105.8" y="394.5" text-anchor="end" transform="rotate(-30 105.8 394.5)">2.5 nM</text>
<text x="127.5" y="394.5" text-anchor="end" transform="rotate(-30 127.5 394.5)">5 nM</text>
<line x1="76.1" y1="408.9" x2="131.5" y2="408.9" stroke="#111" stroke-width="1.2"/>
<text x="103.8" y="419.2" text-anchor="middle">FXIa (5 min)+1A6</text>
<line x1="56.9" y1="423.2" x2="131.5" y2="423.2" stroke="#111" stroke-width="1.2"/>
<text x="94.2" y="432.6" text-anchor="middle">TFPI (5 nM)</text>
<text x="170.8" y="292.2" font-weight="bold" style="font-size:11.6px">G</text>
<text x="195.1" y="290.2">FX-depleted plasma + FXa (0.5 nM)</text>
<line x1="199.1" y1="298.6" x2="199.1" y2="386.1" stroke="#111" stroke-width="1"/>
<line x1="196.8" y1="386.1" x2="199.1" y2="386.1" stroke="#111" stroke-width="1"/>
<text x="194.45" y="388.55" text-anchor="end">0</text>
<line x1="196.8" y1="368.6" x2="199.1" y2="368.6" stroke="#111" stroke-width="1"/>
<text x="194.45" y="371.05" text-anchor="end">50</text>
<line x1="196.8" y1="351.1" x2="199.1" y2="351.1" stroke="#111" stroke-width="1"/>
<text x="194.45" y="353.55" text-anchor="end">100</text>
<line x1="196.8" y1="333.6" x2="199.1" y2="333.6" stroke="#111" stroke-width="1"/>
<text x="194.45" y="336.05" text-anchor="end">150</text>
<line x1="196.8" y1="316.1" x2="199.1" y2="316.1" stroke="#111" stroke-width="1"/>
<text x="194.45" y="318.55" text-anchor="end">200</text>
<line x1="196.8" y1="298.6" x2="199.1" y2="298.6" stroke="#111" stroke-width="1"/>
<text x="194.45" y="301.05" text-anchor="end">250</text>
<line x1="199.1" y1="386.1" x2="310.6" y2="386.1" stroke="#111" stroke-width="1"/>
<text x="176.3" y="339.5" text-anchor="middle" transform="rotate(-90 176.3 339.5)">Clotting time (s)</text>
<line x1="210.3" y1="349.42" x2="210.3" y2="343.82" stroke="#111" stroke-width="0.8"/>
<line x1="209" y1="343.82" x2="211.6" y2="343.82" stroke="#111" stroke-width="0.8"/>
<rect x="204.9" y="349.42" width="10.8" height="36.68" fill="#000"/>
<line x1="233" y1="314.14" x2="233" y2="308.19" stroke="#111" stroke-width="0.8"/>
<line x1="231.7" y1="308.19" x2="234.3" y2="308.19" stroke="#111" stroke-width="0.8"/>
<rect x="227.6" y="314.14" width="10.8" height="71.96" fill="#000"/>
<line x1="255.4" y1="318.97" x2="255.4" y2="313.02" stroke="#111" stroke-width="0.8"/>
<line x1="254.1" y1="313.02" x2="256.7" y2="313.02" stroke="#111" stroke-width="0.8"/>
<rect x="250" y="318.97" width="10.8" height="67.13" fill="#000"/>
<line x1="277.8" y1="332.83" x2="277.8" y2="330.03" stroke="#111" stroke-width="0.8"/>
<line x1="276.5" y1="330.03" x2="279.1" y2="330.03" stroke="#111" stroke-width="0.8"/>
<rect x="272.4" y="332.83" width="10.8" height="53.27" fill="#000"/>
<path d="M277.8 325.53L277.8 323.93M277.8 325.53L279.32 325.04M277.8 325.53L278.74 326.82M277.8 325.53L276.86 326.82M277.8 325.53L276.28 325.04" stroke="#111" stroke-width="1" stroke-linecap="round"/>
<circle cx="277.8" cy="325.53" r="0.7" fill="#111"/>
<line x1="300" y1="347.71" x2="300" y2="342.81" stroke="#111" stroke-width="0.8"/>
<line x1="298.7" y1="342.81" x2="301.3" y2="342.81" stroke="#111" stroke-width="0.8"/>
<rect x="294.6" y="347.71" width="10.8" height="38.39" fill="#000"/>
<path d="M300 338.31L300 336.7M300 338.31L301.52 337.81M300 338.31L300.94 339.6M300 338.31L299.06 339.6M300 338.31L298.48 337.81" stroke="#111" stroke-width="1" stroke-linecap="round"/>
<circle cx="300" cy="338.31" r="0.7" fill="#111"/>
<text x="211.7" y="394.5" text-anchor="end" transform="rotate(-30 211.7 394.5)">vehicle</text>
<text x="234.4" y="394.5" text-anchor="end" transform="rotate(-30 234.4 394.5)">vehicle</text>
<text x="256.8" y="394.5" text-anchor="end" transform="rotate(-30 256.8 394.5)">5 min</text>
<text x="279.2" y="394.5" text-anchor="end" transform="rotate(-30 279.2 394.5)">30 min</text>
<text x="301.4" y="394.5" text-anchor="end" transform="rotate(-30 301.4 394.5)">60 min</text>
<line x1="250.7" y1="408.9" x2="305.5" y2="408.9" stroke="#111" stroke-width="1.2"/>
<text x="278.1" y="418.4" text-anchor="middle">FXIa (1 nM)+1A6</text>
<line x1="228.2" y1="423.2" x2="305.5" y2="423.2" stroke="#111" stroke-width="1.2"/>
<text x="266.85" y="431.8" text-anchor="middle">TFPI (5 nM)</text>
<text x="338.6" y="291.8" font-weight="bold" style="font-size:11.6px">H</text>
<text x="379.2" y="289.5">FX-depleted plasma + FXa (0.5 nM)</text>
<line x1="368.5" y1="299" x2="368.5" y2="385.4" stroke="#111" stroke-width="1"/>
<line x1="365.7" y1="385.4" x2="368.5" y2="385.4" stroke="#111" stroke-width="1"/>
<text x="362.55" y="387.85" text-anchor="end">0</text>
<line x1="365.7" y1="371" x2="368.5" y2="371" stroke="#111" stroke-width="1"/>
<text x="362.55" y="373.45" text-anchor="end">50</text>
<line x1="365.7" y1="356.6" x2="368.5" y2="356.6" stroke="#111" stroke-width="1"/>
<text x="362.55" y="359.05" text-anchor="end">100</text>
<line x1="365.7" y1="342.2" x2="368.5" y2="342.2" stroke="#111" stroke-width="1"/>
<text x="362.55" y="344.65" text-anchor="end">150</text>
<line x1="365.7" y1="327.8" x2="368.5" y2="327.8" stroke="#111" stroke-width="1"/>
<text x="362.55" y="330.25" text-anchor="end">200</text>
<line x1="365.7" y1="313.4" x2="368.5" y2="313.4" stroke="#111" stroke-width="1"/>
<text x="362.55" y="315.85" text-anchor="end">250</text>
<line x1="365.7" y1="299" x2="368.5" y2="299" stroke="#111" stroke-width="1"/>
<text x="362.55" y="301.45" text-anchor="end">300</text>
<line x1="368.5" y1="385.4" x2="513.3" y2="385.4" stroke="#111" stroke-width="1"/>
<text x="345.3" y="342.9" text-anchor="middle" style="font-size:6.95px" transform="rotate(-90 345.3 342.9)">Clotting time (s)</text>
<line x1="379.4" y1="349.69" x2="379.4" y2="343.35" stroke="#111" stroke-width="0.8"/>
<line x1="378.1" y1="343.35" x2="380.7" y2="343.35" stroke="#111" stroke-width="0.8"/>
<rect x="375.45" y="350.14" width="7.9" height="35.26" fill="#fff" stroke="#111" stroke-width="0.9"/>
<line x1="388.2" y1="315.42" x2="388.2" y2="309.37" stroke="#111" stroke-width="0.8"/>
<line x1="386.9" y1="309.37" x2="389.5" y2="309.37" stroke="#111" stroke-width="0.8"/>
<rect x="383.8" y="315.42" width="8.8" height="69.98" fill="#000"/>
<line x1="408" y1="352.86" x2="408" y2="350.26" stroke="#111" stroke-width="0.8"/>
<line x1="406.7" y1="350.26" x2="409.3" y2="350.26" stroke="#111" stroke-width="0.8"/>
<rect x="404.05" y="353.31" width="7.9" height="32.09" fill="#fff" stroke="#111" stroke-width="0.9"/>
<line x1="416.8" y1="339.32" x2="416.8" y2="336.73" stroke="#111" stroke-width="0.8"/>
<line x1="415.5" y1="336.73" x2="418.1" y2="336.73" stroke="#111" stroke-width="0.8"/>
<rect x="412.4" y="339.32" width="8.8" height="46.08" fill="#000"/>
<path d="M416.8 331.23L416.8 329.63M416.8 331.23L418.32 330.73M416.8 331.23L417.74 332.52M416.8 331.23L415.86 332.52M416.8 331.23L415.28 330.73" stroke="#111" stroke-width="1" stroke-linecap="round"/>
<circle cx="416.8" cy="331.23" r="0.7" fill="#111"/>
<line x1="437.1" y1="350.98" x2="437.1" y2="350.84" stroke="#111" stroke-width="0.8"/>
<line x1="435.8" y1="350.84" x2="438.4" y2="350.84" stroke="#111" stroke-width="0.8"/>
<rect x="433.15" y="351.43" width="7.9" height="33.97" fill="#fff" stroke="#111" stroke-width="0.9"/>
<line x1="445.9" y1="319.74" x2="445.9" y2="319.16" stroke="#111" stroke-width="0.8"/>
<line x1="444.6" y1="319.16" x2="447.2" y2="319.16" stroke="#111" stroke-width="0.8"/>
<rect x="441.5" y="319.74" width="8.8" height="65.66" fill="#000"/>
<path d="M443.25 313.66L443.25 312.06M443.25 313.66L444.77 313.17M443.25 313.66L444.19 314.95M443.25 313.66L442.31 314.95M443.25 313.66L441.73 313.17" stroke="#111" stroke-width="1" stroke-linecap="round"/>
<circle cx="443.25" cy="313.66" r="0.7" fill="#111"/>
<path d="M448.55 313.66L448.55 312.06M448.55 313.66L450.07 313.17M448.55 313.66L449.49 314.95M448.55 313.66L447.61 314.95M448.55 313.66L447.03 313.17" stroke="#111" stroke-width="1" stroke-linecap="round"/>
<circle cx="448.55" cy="313.66" r="0.7" fill="#111"/>
<line x1="466.1" y1="354.87" x2="466.1" y2="351.99" stroke="#111" stroke-width="0.8"/>
<line x1="464.8" y1="351.99" x2="467.4" y2="351.99" stroke="#111" stroke-width="0.8"/>
<rect x="462.15" y="355.32" width="7.9" height="30.08" fill="#fff" stroke="#111" stroke-width="0.9"/>
<line x1="474.9" y1="350.55" x2="474.9" y2="348.82" stroke="#111" stroke-width="0.8"/>
<line x1="473.6" y1="348.82" x2="476.2" y2="348.82" stroke="#111" stroke-width="0.8"/>
<rect x="470.5" y="350.55" width="8.8" height="34.85" fill="#000"/>
<line x1="494.7" y1="357.18" x2="494.7" y2="355.16" stroke="#111" stroke-width="0.8"/>
<line x1="493.4" y1="355.16" x2="496" y2="355.16" stroke="#111" stroke-width="0.8"/>
<rect x="490.75" y="357.63" width="7.9" height="27.77" fill="#fff" stroke="#111" stroke-width="0.9"/>
<line x1="503.5" y1="350.55" x2="503.5" y2="347.96" stroke="#111" stroke-width="0.8"/>
<line x1="502.2" y1="347.96" x2="504.8" y2="347.96" stroke="#111" stroke-width="0.8"/>
<rect x="499.1" y="350.55" width="8.8" height="34.85" fill="#000"/>
<text x="383.8" y="396.7" text-anchor="middle">Vehicle</text>
<text x="412.4" y="396.7" text-anchor="middle">FXIa</text>
<text x="441.5" y="396.7" text-anchor="middle">FXIa</text>
<text x="440.9" y="405.3" text-anchor="middle">+</text>
<text x="438" y="413.9" text-anchor="middle">10C9</text>
<text x="470.5" y="396.7" text-anchor="middle">anti-TFPI</text>
<text x="500.3" y="396.7" text-anchor="middle">FXIa</text>
<text x="500.1" y="405.3" text-anchor="middle">+</text>
<text x="501.3" y="413.9" text-anchor="middle">anti-TFPI</text>
<rect x="472.65" y="311.6" width="4.2" height="4.2" fill="#fff" stroke="#111" stroke-width="0.9"/>
<text x="481.8" y="316.1">Control</text>
<rect x="472.2" y="325.1" width="5.1" height="5.1" fill="#000"/>
<text x="481.8" y="330">TFPI</text>
</svg>
</body></html>
